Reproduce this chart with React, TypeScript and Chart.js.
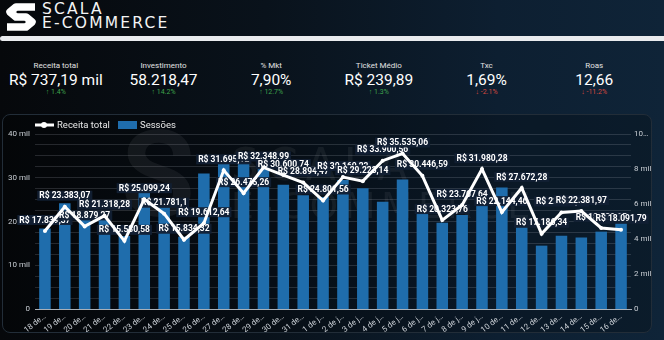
import React, { useEffect, useRef } from 'react';
import { Chart, registerables } from 'chart.js';
Chart.register(...registerables);

const categories = [
  '18 de…', '19 de…', '20 de…', '21 de…', '22 de…', '23 de…', '24 de…', '25 de…', '26 de…', '27 de…',
  '28 de…', '29 de…', '30 de…', '31 de…', '1 de j…', '2 de j…', '3 de j…', '4 de j…', '5 de j…', '6 de j…',
  '7 de j…', '8 de j…', '9 de j…', '10 de…', '11 de…', '12 de…', '13 de…', '14 de…', '15 de…', '16 de…',
];

const receitaTotal = [
  17839.37, 23383.07, 18879.27, 21318.28, 15580.58, 25099.24, 21781.1, 15834.32, 19612.64, 31695.12,
  26475.26, 32348.99, 30600.74, 28894.47, 24801.56, 30160.23, 29223.14, 33900.56, 35535.06, 30446.59,
  20323.76, 23767.64, 31980.28, 22144.46, 27672.28, 17186.34, 22050.41, 22381.97, 18520.15, 18091.79,
];

const sessoes = [
  4600, 6050, 5250, 5120, 4170, 6740, 5800, 4130, 7750, 8300,
  8350, 8200, 7100, 6500, 6400, 7370, 6900, 6130, 7400, 5500,
  4930, 5370, 5940, 6950, 4700, 3620, 4190, 4080, 4420, 4930,
];

const leftTickValues = [0, 10000, 20000, 30000, 40000];
const leftTickLabels = ['0', '10 mil', '20 mil', '30 mil', '40 mil'];
const rightTickValues = [0, 2000, 4000, 6000, 8000, 10000];
const rightTickLabels = ['0', '2 mil', '4 mil', '6 mil', '8 mil', '10…'];

const kpiLabels = ['Receita total', 'Investimento', '% Mkt', 'Ticket Médio', 'Txc', 'Roas'];
const kpiValues = ['R$ 737,19 mil', '58.218,47', '7,90%', 'R$ 239,89', '1,69%', '12,66'];
const kpiChanges = ['1.4%', '14.2%', '12.7%', '1.3%', '-2.1%', '-11.2%'];
const kpiPositive = [true, true, true, true, false, false];

const BAR_COLOR = '#1f6dac';
const FONT = 'Roboto, "Noto Sans", sans-serif';

function fmtBR(v: number): string {
  const fixed = v.toFixed(2);
  let [intPart, dec] = fixed.split('.');
  dec = dec.replace(/0+$/, '');
  intPart = intPart.replace(/\B(?=(\d{3})+(?!\d))/g, '.');
  return dec ? intPart + ',' + dec : intPart;
}

const valueLabelPlugin = {
  id: 'valueLabels',
  beforeDatasetDraw(chart: any, args: any) {
    if (args.index !== 0) return;
    const meta = chart.getDatasetMeta(0);
    const ctx = chart.ctx as CanvasRenderingContext2D;
    ctx.save();
    ctx.font = `bold 8.5px ${FONT}`;
    ctx.textAlign = 'center';
    ctx.textBaseline = 'middle';
    meta.data.forEach((pt: any, i: number) => {
      const txt = 'R$ ' + fmtBR(receitaTotal[i]);
      const w = ctx.measureText(txt).width + 4;
      const h = 10;
      const x = pt.x;
      const y = pt.y - 11;
      ctx.fillStyle = 'rgba(18,32,52,0.95)';
      ctx.fillRect(x - w / 2, y - h / 2, w, h);
      ctx.fillStyle = '#ffffff';
      ctx.fillText(txt, x, y + 0.5);
    });
    ctx.restore();
  },
};

const decorPlugin = {
  id: 'decor',
  beforeDatasetsDraw(chart: any) {
    const ctx = chart.ctx as CanvasRenderingContext2D;
    ctx.save();
    ctx.fillStyle = 'rgba(255,255,255,0.06)';
    ctx.font = `bold 120px ${FONT}`;
    ctx.textBaseline = 'alphabetic';
    ctx.fillText('S', 118, 100);
    ctx.font = `44px "DejaVu Sans", sans-serif`;
    (ctx as any).letterSpacing = '8px';
    ctx.fillText('SCALA', 228, 64);
    ctx.font = `36px "DejaVu Sans", sans-serif`;
    (ctx as any).letterSpacing = '6px';
    ctx.fillText('E-COMMERCE', 228, 102);
    ctx.restore();
  },
  afterDraw(chart: any) {
    const ctx = chart.ctx as CanvasRenderingContext2D;
    ctx.save();
    ctx.strokeStyle = '#ffffff';
    ctx.lineWidth = 3;
    ctx.beginPath();
    ctx.moveTo(32, 9);
    ctx.lineTo(51, 9);
    ctx.stroke();
    ctx.fillStyle = '#ffffff';
    ctx.beginPath();
    ctx.arc(41, 9, 3, 0, Math.PI * 2);
    ctx.fill();
    ctx.font = `9.5px ${FONT}`;
    ctx.textBaseline = 'middle';
    ctx.fillStyle = '#e8e8e8';
    ctx.fillText(chart.data.datasets[0].label, 54, 9.5);
    ctx.fillStyle = BAR_COLOR;
    ctx.fillRect(115, 5, 19, 8);
    ctx.fillStyle = '#e8e8e8';
    ctx.fillText(chart.data.datasets[1].label, 137, 9.5);
    ctx.restore();
  },
};

export default function App() {
  const ref = useRef<HTMLCanvasElement>(null);

  useEffect(() => {
    document.body.style.margin = '0';
    const canvas = ref.current!;
    const chart = new Chart(canvas, {
      data: {
        labels: categories,
        datasets: [
          {
            type: 'line',
            label: 'Receita total',
            data: receitaTotal,
            yAxisID: 'y',
            borderColor: '#ffffff',
            backgroundColor: '#ffffff',
            borderWidth: 3,
            pointRadius: 2,
            pointBorderWidth: 0,
            pointBackgroundColor: '#ffffff',
            tension: 0,
            order: 0,
          } as any,
          {
            type: 'bar',
            label: 'Sessões',
            data: sessoes,
            yAxisID: 'y1',
            backgroundColor: BAR_COLOR,
            barPercentage: 0.58,
            categoryPercentage: 1,
            order: 1,
          } as any,
        ],
      },
      options: {
        responsive: false,
        animation: false,
        devicePixelRatio: 1,
        layout: { padding: { top: 18, left: 0, right: 0, bottom: 0 } },
        plugins: {
          legend: { display: false },
          tooltip: { enabled: false },
        },
        scales: {
          x: {
            grid: { display: false, drawTicks: false },
            border: { display: true, color: '#a9b0b8', width: 1 },
            ticks: {
              color: '#c9ced4',
              font: { family: FONT, size: 8 },
              autoSkip: false,
              minRotation: 38,
              maxRotation: 38,
              padding: 3,
            },
            afterFit: (s: any) => { s.height = 23; },
          },
          y: {
            position: 'left',
            min: 0,
            max: 40000,
            afterBuildTicks: (s: any) => {
              const t = [];
              for (let v = 0; v <= 40000; v += 2500) t.push({ value: v });
              s.ticks = t;
            },
            grid: {
              color: (c: any) => (c.tick && c.tick.value === 0 ? '#a9b0b8' : 'rgba(200,210,220,0.17)'),
              drawTicks: false,
            },
            border: { display: false },
            ticks: {
              color: '#c9ced4',
              font: { family: FONT, size: 8 },
              padding: 5,
              autoSkip: false,
              callback: (v: any) => {
                const k = leftTickValues.indexOf(Number(v));
                return k >= 0 ? leftTickLabels[k] : '';
              },
            },
            afterFit: (s: any) => { s.width = 32; },
          },
          y1: {
            position: 'right',
            min: 0,
            max: 10000,
            afterBuildTicks: (s: any) => {
              s.ticks = rightTickValues.map((v) => ({ value: v }));
            },
            grid: { display: false, drawTicks: false },
            border: { display: false },
            ticks: {
              color: '#c9ced4',
              font: { family: FONT, size: 8 },
              padding: 3,
              autoSkip: false,
              callback: (v: any) => {
                const k = rightTickValues.indexOf(Number(v));
                return k >= 0 ? rightTickLabels[k] : '';
              },
            },
            afterFit: (s: any) => { s.width = 29; },
          },
        },
      },
      plugins: [valueLabelPlugin, decorPlugin],
    } as any);
    return () => chart.destroy();
  }, []);

  return (
    <div
      style={{
        position: 'fixed',
        left: 0,
        top: 0,
        width: 664,
        height: 340,
        overflow: 'hidden',
        background: 'linear-gradient(90deg, #06080b 0%, #09121b 40%, #0d1f31 75%, #0f2438 100%)',
        fontFamily: FONT,
        color: '#fff',
      }}
    >
      <svg width={36} height={32} style={{ position: 'absolute', left: 3, top: 1 }} viewBox="0 0 36 32">
        <path
          d="M32 6 H13 L7 11 L13 16 H23 L29 21 L23 26 H4"
          fill="none"
          stroke="#ffffff"
          strokeWidth={7.5}
          strokeLinejoin="round"
          strokeLinecap="butt"
        />
      </svg>
      <div
        style={{
          position: 'absolute',
          left: 42,
          top: 2,
          fontFamily: '"DejaVu Sans", sans-serif',
          fontSize: 15.5,
          lineHeight: '14px',
          letterSpacing: 2.2,
          color: '#f4f4f4',
        }}
      >
        <div>SCALA</div>
        <div>E-COMMERCE</div>
      </div>
      <div
        style={{
          position: 'absolute',
          left: 0,
          top: 36,
          width: 664,
          height: 5,
          background: '#e9ebee',
          borderRadius: '3px 0 0 3px',
        }}
      />
      <div style={{ position: 'absolute', left: 2, top: 0, width: 646, height: 110, display: 'flex' }}>
        {kpiLabels.map((lab, i) => (
          <div key={lab} style={{ position: 'relative', flex: 1, textAlign: 'center' }}>
            <div style={{ position: 'absolute', left: 0, right: 0, top: 61, fontSize: 8, lineHeight: '10px', color: '#e2e2e2' }}>
              {lab}
            </div>
            <div style={{ position: 'absolute', left: 0, right: 0, top: 71, fontSize: 15.5, lineHeight: '18px', color: '#ffffff' }}>
              {kpiValues[i]}
            </div>
            <div
              style={{
                position: 'absolute',
                left: 0,
                right: 0,
                top: 88,
                fontSize: 7,
                lineHeight: '8px',
                color: kpiPositive[i] ? '#3fa34d' : '#d6493f',
              }}
            >
              {(kpiPositive[i] ? '↑ ' : '↓ ') + kpiChanges[i]}
            </div>
          </div>
        ))}
      </div>
      <div
        style={{
          position: 'absolute',
          left: 2,
          top: 114,
          width: 650,
          height: 219,
          border: '1px solid #222d38',
          borderRadius: 8,
          background: 'rgba(0,0,0,0.22)',
          boxSizing: 'border-box',
        }}
      />
      <canvas
        ref={ref}
        width={657}
        height={216}
        style={{ position: 'absolute', left: 3, top: 116, width: 657, height: 216 }}
      />
    </div>
  );
}
